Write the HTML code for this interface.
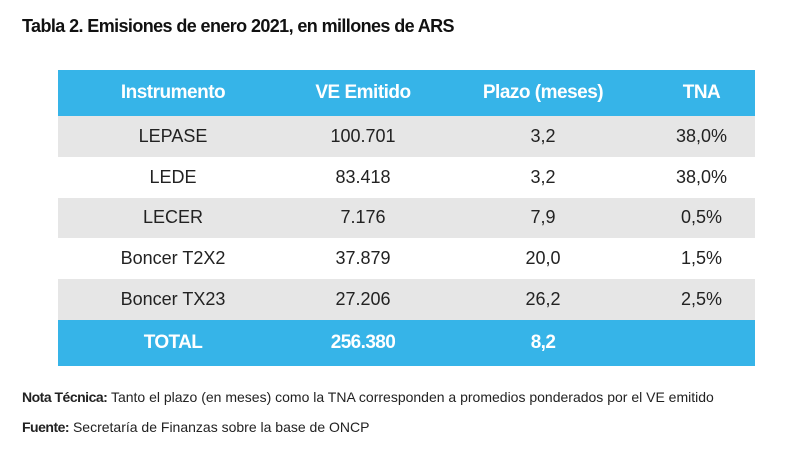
<!DOCTYPE html>
<html><head><meta charset="utf-8"><style>
body{margin:0;width:800px;height:457px;background:#fff;font-family:"Liberation Sans",sans-serif;position:relative;overflow:hidden}
.t{position:absolute;left:22px;top:16px;font-size:18px;font-weight:bold;color:#111;letter-spacing:-0.6px}
table{position:absolute;left:58px;top:70px;border-collapse:collapse;width:697px}
td{text-align:center;font-size:18px;color:#222;height:40.8px;padding:0}
tr.h td{background:#36b4e8;color:#fff;height:46px;font-size:19px;font-weight:bold;letter-spacing:-0.5px}
tr.g td{background:#e6e6e6}
tr.f td{background:#36b4e8;color:#fff;height:46px;font-weight:bold;font-size:19px;letter-spacing:-0.6px}
.n{position:absolute;left:22px;font-size:14px;color:#222}
</style></head><body>
<div class="t">Tabla 2. Emisiones de enero 2021, en millones de ARS</div>
<table>
<colgroup><col style="width:230px"><col style="width:150px"><col style="width:210px"><col style="width:107px"></colgroup>
<tr class="h"><td>Instrumento</td><td>VE Emitido</td><td>Plazo (meses)</td><td>TNA</td></tr>
<tr class="g"><td>LEPASE</td><td>100.701</td><td>3,2</td><td>38,0%</td></tr>
<tr><td>LEDE</td><td>83.418</td><td>3,2</td><td>38,0%</td></tr>
<tr class="g"><td>LECER</td><td>7.176</td><td>7,9</td><td>0,5%</td></tr>
<tr><td>Boncer T2X2</td><td>37.879</td><td>20,0</td><td>1,5%</td></tr>
<tr class="g"><td>Boncer TX23</td><td>27.206</td><td>26,2</td><td>2,5%</td></tr>
<tr class="f"><td>TOTAL</td><td>256.380</td><td>8,2</td><td></td></tr>
</table>
<div class="n" style="top:389px"><b style="letter-spacing:-0.5px">Nota Técnica:</b> Tanto el plazo (en meses) como la TNA corresponden a promedios ponderados por el VE emitido</div>
<div class="n" style="top:419px"><b style="letter-spacing:-0.5px">Fuente:</b> Secretaría de Finanzas sobre la base de ONCP</div>
</body></html>
